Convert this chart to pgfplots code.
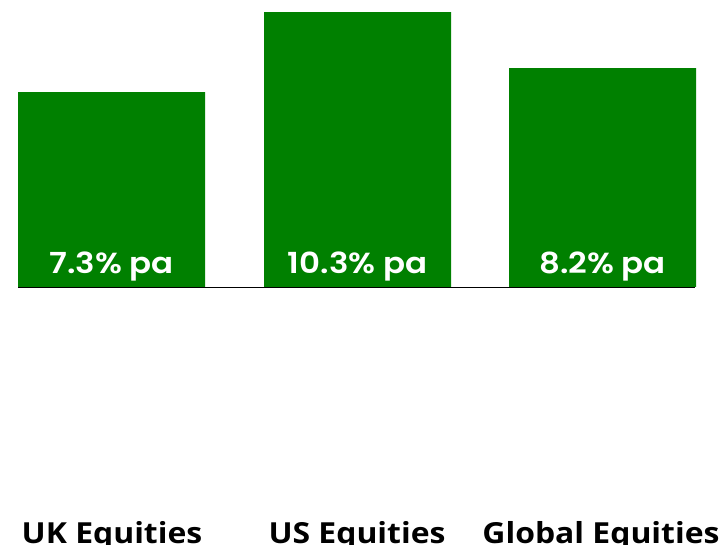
\documentclass[border=0pt]{standalone}
\usepackage{fontspec}
\setmainfont{Open Sans}[Ligatures=NoCommon]
\newfontfamily\labfont{Open Sans}[Ligatures=NoCommon, FakeStretch=1.1]
\newfontfamily\valfont{Poppins SemiBold}[FakeStretch=1.12]
\usepackage{pgfplots}
\pgfplotsset{compat=1.18}
\definecolor{bargreen}{HTML}{008000}
\begin{document}
\begin{tikzpicture}[x=1pt,y=1pt]
\path[use as bounding box] (0,-258) rectangle (722,287);
\begin{axis}[
  at={(0,0)}, anchor=south west,
  scale only axis, width=722pt, height=287pt,
  xmin=0, xmax=722, ymin=0, ymax=10.75,
  hide axis, clip=false,
  ybar, bar width=187pt,
]
\addplot[fill=bargreen, draw=none] coordinates {(111.5,7.3) (357.5,10.3) (602.5,8.2)};
\draw[black, line width=0.8pt] (axis cs:18,0) -- (axis cs:695,0);
\node[white, font=\valfont\fontsize{29}{30}\selectfont, anchor=base] at (axis cs:111.5,0.52) {7.3\% pa};
\node[white, font=\valfont\fontsize{29}{30}\selectfont, anchor=base] at (axis cs:357.5,0.52) {10.3\% pa};
\node[white, font=\valfont\fontsize{29}{30}\selectfont, anchor=base] at (axis cs:602.5,0.52) {8.2\% pa};
\end{axis}
\node[font=\labfont\fontsize{29}{30}\selectfont\bfseries, anchor=base] at (112,-256) {UK Equities};
\node[font=\labfont\fontsize{29}{30}\selectfont\bfseries, anchor=base] at (357,-256) {US Equities};
\node[font=\labfont\fontsize{29}{30}\selectfont\bfseries, anchor=base] at (601,-256) {Global Equities};
\end{tikzpicture}
\end{document}
